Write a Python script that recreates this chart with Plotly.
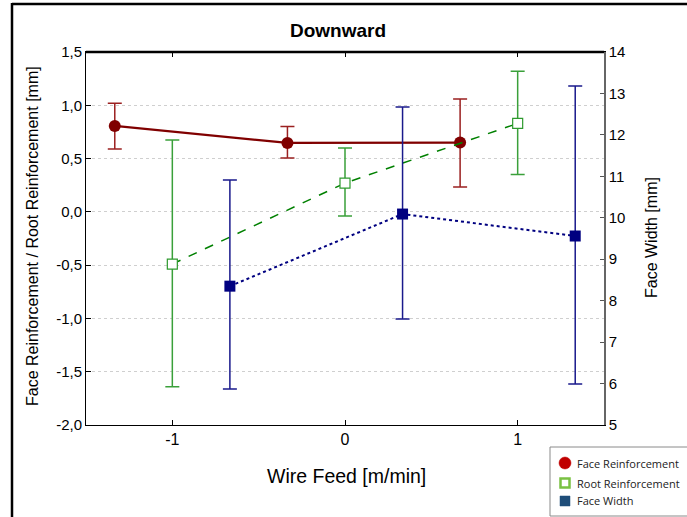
import plotly.graph_objects as go

# ---- data ----
wire_feed = [-1, 0, 1]
x_tick_labels = ["-1", "0", "1"]

face_reinf = [0.806, 0.647, 0.650]
face_reinf_hi = [1.02, 0.80, 1.06]
face_reinf_lo = [0.59, 0.506, 0.234]

root_reinf = [-0.49, 0.27, 0.83]
root_reinf_hi = [0.675, 0.60, 1.32]
root_reinf_lo = [-1.64, -0.04, 0.35]

face_width = [8.35, 10.09, 9.56]
face_width_hi = [10.91, 12.67, 13.18]
face_width_lo = [5.87, 7.56, 5.99]

left_tick_vals = [-2.0, -1.5, -1.0, -0.5, 0.0, 0.5, 1.0, 1.5]
left_tick_text = ["-2,0", "-1,5", "-1,0", "-0,5", "0,0", "0,5", "1,0", "1,5"]
right_tick_vals = [5, 6, 7, 8, 9, 10, 11, 12, 13, 14]

series_names = ["Face Reinforcement", "Root Reinforcement", "Face Width"]

# horizontal jitter of the three series around each wire-feed level
offsets = {"face": -1/3, "root": 0.0, "width": 1/3}

def shifted(off):
    return [w + off for w in wire_feed]

def err(vals, hi, lo):
    return ([h - v for v, h in zip(vals, hi)], [v - l for v, l in zip(vals, lo)])

FONT = "Liberation Sans, Arial, sans-serif"

# layout geometry (pixels)
W, H = 687, 517
L, R, T, B = 86, 83, 52, 92
PW, PH = W - L - R, H - T - B

def px(x):
    return (x - L) / PW

def py(y):
    return (H - B - y) / PH

fig = go.Figure()

up, dn = err(face_reinf, face_reinf_hi, face_reinf_lo)
fig.add_trace(go.Scatter(
    x=shifted(offsets["face"]), y=face_reinf, mode="lines+markers", name=series_names[0],
    line=dict(color="#800000", width=2.2),
    marker=dict(symbol="circle", size=12, color="#800000"),
    error_y=dict(type="data", array=up, arrayminus=dn, color="#9b2020", thickness=1.5, width=7),
    showlegend=False, yaxis="y"))

up, dn = err(root_reinf, root_reinf_hi, root_reinf_lo)
fig.add_trace(go.Scatter(
    x=shifted(offsets["root"]), y=root_reinf, mode="lines+markers", name=series_names[1],
    line=dict(color="#008000", width=1.5, dash="dash"),
    marker=dict(symbol="square", size=10, color="white", line=dict(color="#2e9a2e", width=1.2)),
    error_y=dict(type="data", array=up, arrayminus=dn, color="#3aa03a", thickness=1.5, width=7),
    showlegend=False, yaxis="y"))

up, dn = err(face_width, face_width_hi, face_width_lo)
fig.add_trace(go.Scatter(
    x=shifted(offsets["width"]), y=face_width, mode="lines+markers", name=series_names[2],
    line=dict(color="#000080", width=2, dash="dot"),
    marker=dict(symbol="square", size=11, color="#000080"),
    error_y=dict(type="data", array=up, arrayminus=dn, color="#1a1a8c", thickness=1.5, width=7),
    showlegend=False, yaxis="y2"))

fig.update_layout(
    width=W, height=H,
    margin=dict(l=L, r=R, t=T, b=B, autoexpand=False),
    paper_bgcolor="white", plot_bgcolor="white",
    font=dict(family=FONT, color="black"),
    title=dict(text="<b>Downward</b>", x=338/W, xanchor="center", y=1 - 30/H,
               yanchor="middle", font=dict(size=19, family=FONT)),
    xaxis=dict(range=[-1.5, 1.5], tickvals=wire_feed, ticktext=x_tick_labels,
               ticks="inside", ticklen=5, tickcolor="black", showgrid=False, zeroline=False,
               showline=True, linecolor="black", linewidth=1, mirror="ticks",
               tickfont=dict(size=16)),
    yaxis=dict(range=[-2.0, 1.5], tickvals=left_tick_vals, ticktext=left_tick_text,
               ticks="inside", ticklen=5, tickcolor="black", showgrid=True,
               gridcolor="#cfcfcf", griddash="dot", gridwidth=1, zeroline=False,
               showline=True, linecolor="black", linewidth=1,
               tickfont=dict(size=15)),
    yaxis2=dict(range=[5, 14], tickvals=right_tick_vals, overlaying="y", side="right",
                ticks="inside", ticklen=4, tickcolor="#555", showgrid=False, zeroline=False,
                showline=True, linecolor="#666", linewidth=1.5,
                tickfont=dict(size=15)),
    showlegend=False,
)

fig.add_annotation(text="Face Reinforcement / Root Reinforcement [mm]", textangle=-90,
                   xref="paper", yref="paper", x=px(32), y=py(236),
                   xanchor="center", yanchor="middle",
                   showarrow=False, font=dict(size=16, family=FONT))
fig.add_annotation(text="Face Width [mm]", textangle=-90,
                   xref="paper", yref="paper", x=px(651), y=py(238),
                   xanchor="center", yanchor="middle",
                   showarrow=False, font=dict(size=16, family=FONT))
fig.add_annotation(text="Wire Feed [m/min]",
                   xref="paper", yref="paper", x=px(346), y=py(476),
                   xanchor="center", yanchor="middle",
                   showarrow=False, font=dict(size=19.5, family=FONT))

# thick top frame line and outer figure border (left + top)
fig.add_shape(type="line", xref="paper", yref="paper", x0=0, x1=1, y0=1, y1=1,
              line=dict(color="black", width=2.5))
fig.add_shape(type="line", xref="paper", yref="paper",
              x0=px(12), x1=px(12), y0=py(3), y1=py(520),
              line=dict(color="black", width=2.5))
fig.add_shape(type="line", xref="paper", yref="paper",
              x0=px(12), x1=px(690), y0=py(4), y1=py(4),
              line=dict(color="black", width=2.5))

# legend box (drawn manually to match the reference placement)
fig.add_shape(type="rect", xref="paper", yref="paper",
              x0=px(550), x1=px(700), y0=py(447), y1=py(516),
              line=dict(color="#8a8a8a", width=1), fillcolor="white", layer="above")
legend_items = [
    (series_names[0], "circle", "#c00000", "#c00000", 6, 463),
    (series_names[1], "rect", "white", "#7ac143", 4.5, 483),
    (series_names[2], "rect", "#1f4e79", "#1f4e79", 5, 501),
]
for name, kind, fill, edge, r, yc in legend_items:
    fig.add_shape(type=kind, xref="paper", yref="paper",
                  xsizemode="pixel", ysizemode="pixel",
                  xanchor=px(565), yanchor=py(yc),
                  x0=-r, x1=r, y0=-r, y1=r,
                  fillcolor=fill, line=dict(color=edge, width=2.5 if kind == "rect" and fill == "white" else 0.5),
                  layer="above")
    fig.add_annotation(text=name, xref="paper", yref="paper", x=px(575), y=py(yc),
                       xanchor="left", yanchor="middle", showarrow=False,
                       font=dict(size=11, family="Open Sans, sans-serif", color="#222"))

fig.write_html("out.html")
